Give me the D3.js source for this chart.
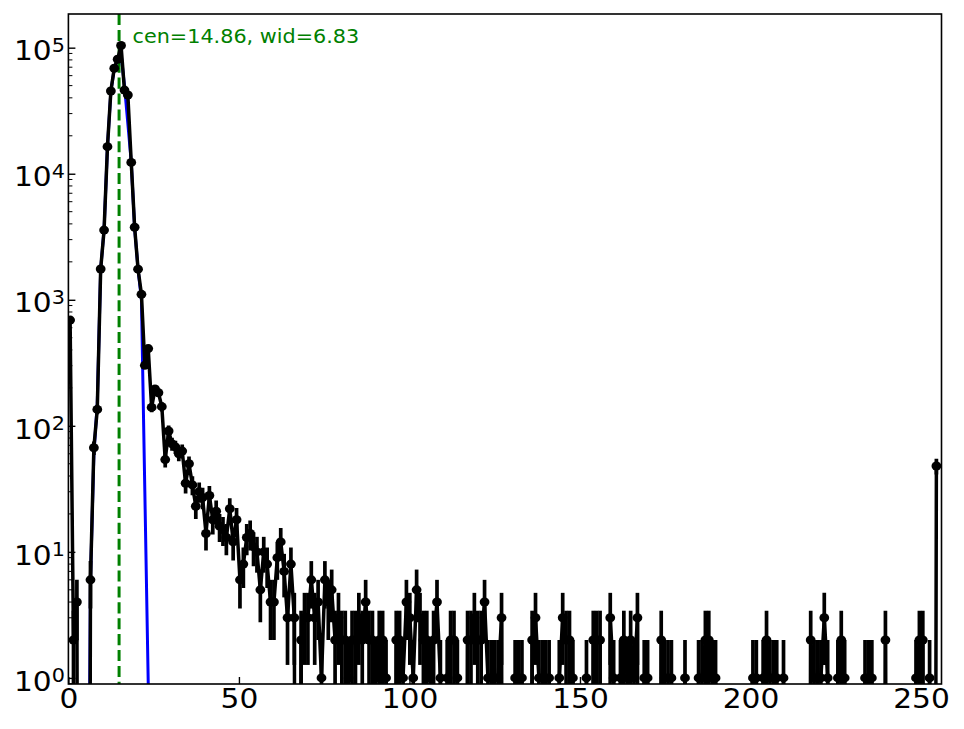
<!DOCTYPE html>
<html><head><meta charset="utf-8">
<script src="https://cdn.jsdelivr.net/npm/d3@7/dist/d3.min.js"></script>
<style>body{margin:0;background:#fff} text{font-family:"DejaVu Sans",sans-serif}</style>
</head><body><svg id="c" width="964" height="729"></svg>
<script>
// ---- data ----
const counts = [
 690, 2, 4, 0, 0, 0, 6, 67, 135, 1754,
 3570, 16400, 45300, 68700, 81000, 104000, 46100, 42100, 12300, 3760,
 1750, 1105, 302, 410, 140, 196, 183, 142, 54, 91,
 72, 68, 60, 63, 35, 50, 34, 23, 30, 27,
 14, 28, 18, 21, 16, 15, 13, 22, 12, 18,
 6, 8, 13, 14, 11, 10, 5, 10, 8, 4,
 4, 9, 12, 7, 3, 8, 3, 0, 2, 3,
 3, 6, 3, 4, 1, 6, 4, 5, 2, 3,
 2, 2, 1, 2, 2, 3, 2, 4, 2, 2,
 1, 2, 2, 1, 0, 0, 2, 2, 1, 4,
 3, 1, 5, 3, 2, 2, 1, 2, 4, 1,
 0, 1, 2, 2, 1, 0, 0, 2, 2, 3,
 2, 2, 4, 1, 1, 1, 1, 3, 0, 0,
 0, 1, 1, 1, 0, 0, 2, 3, 1, 1,
 1, 1, 0, 0, 1, 3, 2, 2, 1, 0,
 0, 0, 1, 0, 2, 2, 2, 0, 0, 3,
 1, 0, 1, 2, 1, 2, 1, 3, 0, 1,
 1, 0, 0, 0, 2, 1, 1, 1, 0, 0,
 0, 1, 0, 0, 0, 1, 1, 2, 2, 1,
 1, 0, 0, 0, 0, 0, 0, 0, 0, 0,
 0, 1, 1, 0, 1, 2, 1, 1, 1, 0,
 1, 0, 0, 0, 0, 0, 0, 0, 2, 1,
 1, 1, 3, 1, 0, 0, 1, 2, 1, 0,
 0, 0, 0, 0, 1, 1, 1, 0, 0, 0,
 2, 0, 0, 0, 0, 0, 0, 0, 0, 1,
 2, 2, 0, 1, 0, 48
];
// histogram of 256 bins spanning 0..255 -> bin centres
const binLo = 0, binHi = 255;
const binWidth = (binHi - binLo) / counts.length;
const centres = counts.map((_, i) => binLo + (i + 0.5) * binWidth);
const fitBins   = [4, 5, 6, 7, 8, 9, 10, 11, 12, 13, 14, 15, 16, 17, 18, 19, 20, 21, 22, 23, 24, 25];
const fitValues = [1e-6, 1e-3, 6, 60, 150, 1750, 3600, 16400, 45000, 68000, 82000, 90000, 50000, 25000, 12300, 3700, 1750, 1000, 30, 0.9, 0.01, 1e-6];
const fitCen = 14.86, fitWid = 6.83;
const xTicks = [0, 50, 100, 150, 200, 250];
const yTicks = [1, 10, 100, 1000, 10000, 100000];
const xDomain = [0, 256];
const yDomain = [0.895, 1.85e5];

// ---- layout ----
const L = 68.4, R = 941.5, T = 14, B = 684;
const FLOOR = 1e-10;
const SX = 1.12;           // horizontal stretch of the reference's text
const svg = d3.select("#c");
const x = d3.scaleLinear().domain(xDomain).range([L, R]);
const y = d3.scaleLog().domain(yDomain).range([B, T]);

svg.append("defs").append("clipPath").attr("id", "clip")
  .append("rect").attr("x", L).attr("y", T).attr("width", R - L).attr("height", B - T);
const plot = svg.append("g").attr("clip-path", "url(#clip)");

// green dashed centre line
plot.append("line")
  .attr("x1", x(fitCen)).attr("x2", x(fitCen)).attr("y1", T).attr("y2", B)
  .attr("stroke", "#008000").attr("stroke-width", 3).attr("stroke-dasharray", "11.1,4.8");

// blue fit line
plot.append("path")
  .attr("d", d3.line().x((d, i) => x(centres[fitBins[i]])).y(d => y(Math.max(d, FLOOR)))(fitValues))
  .attr("fill", "none").attr("stroke", "#0000ff").attr("stroke-width", 3).attr("stroke-linejoin", "round");

// error bars
const eb = plot.append("g").attr("stroke", "#000").attr("stroke-width", 3.7);
counts.forEach((v, i) => {
  if (v <= 0) return;
  const e = Math.sqrt(v);
  const lo = Math.max(v - e, FLOOR);
  eb.append("line").attr("x1", x(centres[i])).attr("x2", x(centres[i])).attr("y1", y(lo)).attr("y2", y(v + e));
});
// data line
plot.append("path")
  .attr("d", d3.line().x((d, i) => x(centres[i])).y(d => y(Math.max(d, FLOOR)))(counts))
  .attr("fill", "none").attr("stroke", "#000").attr("stroke-width", 3.5).attr("stroke-linejoin", "round");
// markers
plot.append("g").selectAll("ellipse").data(counts.map((v, i) => [centres[i], v]).filter(d => d[1] > 0))
  .join("ellipse").attr("cx", d => x(d[0])).attr("cy", d => y(d[1])).attr("rx", 4.9).attr("ry", 4.5).attr("fill", "#000");

// ---- axes ----
const fs = 26.5;
const xAxis = svg.append("g").attr("transform", `translate(0,${B})`)
  .call(d3.axisBottom(x).tickValues(xTicks).tickSizeInner(-7).tickSizeOuter(0).tickPadding(5).tickFormat(d3.format("d")));
xAxis.select(".domain").remove();
xAxis.selectAll("line").attr("stroke", "#000").attr("stroke-width", 1.4);
xAxis.selectAll("text").attr("font-size", fs).attr("fill", "#000").attr("font-family", "DejaVu Sans")
  .attr("transform", `scale(${SX},1)`);

// y major ticks
const yAxis = svg.append("g").attr("transform", `translate(${L},0)`)
  .call(d3.axisLeft(y).tickValues(yTicks).tickSizeInner(-7).tickSizeOuter(0).tickPadding(3.5).tickFormat(() => ""));
yAxis.select(".domain").remove();
yAxis.selectAll("line").attr("stroke", "#000").attr("stroke-width", 1.4);
yAxis.selectAll(".tick text").each(function(d) {
  const t = d3.select(this).attr("font-size", fs).attr("fill", "#000").attr("dy", "0.46em")
    .attr("x", -3.5 / SX).attr("transform", `scale(${SX},1)`);
  t.append("tspan").text("10");
  t.append("tspan").attr("font-size", fs * 0.7).attr("dy", "-0.45em").text(Math.round(Math.log10(d)));
});
// y minor ticks
const minor = [0.9];
yTicks.forEach(p => { for (let k = 2; k <= 9; k++) minor.push(p * k); });
svg.append("g").selectAll("line").data(minor.filter(v => v >= yDomain[0] && v <= yDomain[1]))
  .join("line").attr("x1", L).attr("x2", L + 4).attr("y1", d => y(d)).attr("y2", d => y(d))
  .attr("stroke", "#000").attr("stroke-width", 1);

// frame
svg.append("rect").attr("x", L).attr("y", T).attr("width", R - L).attr("height", B - T)
  .attr("fill", "none").attr("stroke", "#000").attr("stroke-width", 1.6);

// annotation
svg.append("text").attr("transform", `translate(132.5,43) scale(1.07,1)`)
  .attr("font-size", 19.4).attr("fill", "#008000")
  .text(`cen=${fitCen.toFixed(2)}, wid=${fitWid.toFixed(2)}`);
</script></body></html>
